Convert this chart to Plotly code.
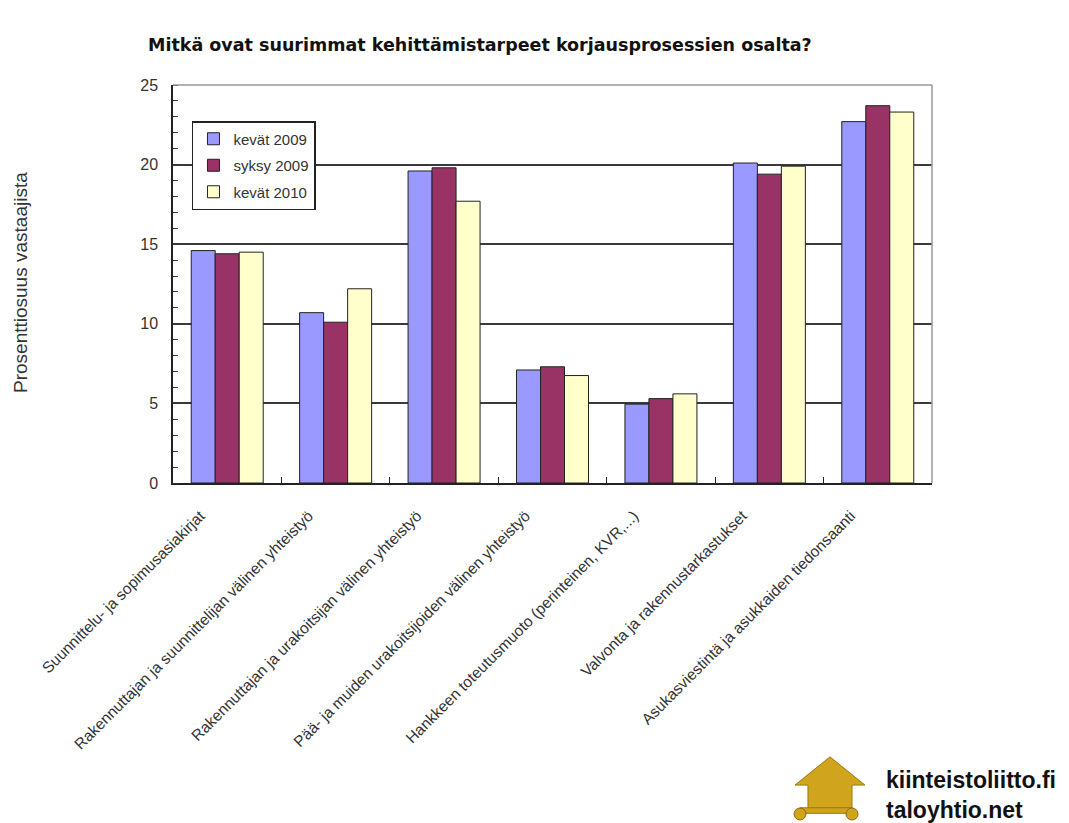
import plotly.graph_objects as go

categories = [
    "Suunnittelu- ja sopimusasiakirjat",
    "Rakennuttajan ja suunnittelijan välinen yhteistyö",
    "Rakennuttajan ja urakoitsijan välinen yhteistyö",
    "Pää- ja muiden urakoitsijoiden välinen yhteistyö",
    "Hankkeen toteutusmuoto (perinteinen, KVR,...)",
    "Valvonta ja rakennustarkastukset",
    "Asukasviestintä ja asukkaiden tiedonsaanti",
]
kevat_2009 = [14.6, 10.7, 19.6, 7.1, 4.95, 20.1, 22.7]
syksy_2009 = [14.4, 10.1, 19.8, 7.3, 5.3, 19.4, 23.7]
kevat_2010 = [14.5, 12.2, 17.7, 6.75, 5.6, 19.9, 23.3]
y_ticks = [0, 5, 10, 15, 20, 25]

series = [("kevät 2009", kevat_2009, "#9999FF"),
          ("syksy 2009", syksy_2009, "#993366"),
          ("kevät 2010", kevat_2010, "#FFFFCC")]

fig = go.Figure()
for name, vals, col in series:
    fig.add_trace(go.Bar(x=categories, y=vals, name=name, marker_color=col,
                         legendgroup=name,
                         marker_line_color="#222222", marker_line_width=1))

FONT = "Liberation Sans, Arial, sans-serif"
GOLD = "#D1A41E"
fig.update_layout(
    width=1061, height=815,
    margin=dict(l=165, r=137, t=77, b=340),
    paper_bgcolor="white", plot_bgcolor="white",
    barmode="group", bargap=0.336, bargroupgap=0,
    font=dict(family=FONT, color="#222222"),
    showlegend=True,
    legend=dict(x=0.025, y=0.9095, xanchor="left", yanchor="top",
                bordercolor="#222222", borderwidth=1.5, bgcolor="white",
                font=dict(size=15, family=FONT, color="#333333"),
                itemwidth=30, tracegroupgap=4),
    xaxis=dict(tickangle=-45, tickfont=dict(size=15.5, family=FONT, color="#333333"),
               ticks="inside", tickson="boundaries", ticklen=6, tickcolor="#222222",
               ticklabelstandoff=16, ticklabelshift=-27,
               showline=True, linecolor="#222222", linewidth=1.5),
    yaxis=dict(range=[0, 25], tickvals=y_ticks, tickfont=dict(size=16, family=FONT, color="#333333"),
               showgrid=True, gridcolor="#3a3a3a", gridwidth=1.5,
               ticks="", ticklabelstandoff=10,
               minor=dict(ticks="inside", dtick=1, ticklen=5, tickcolor="#333333", showgrid=False),
               showline=True, linecolor="#222222", linewidth=1.5),
    shapes=[
        dict(type="line", xref="paper", yref="paper", x0=0, x1=1, y0=1, y1=1,
             line=dict(color="#999999", width=1.5)),
        dict(type="line", xref="paper", yref="paper", x0=1, x1=1, y0=0, y1=1,
             line=dict(color="#999999", width=1.5)),
        # logo house
        dict(type="path", xref="paper", yref="paper",
             path="M 0.8195,-0.759 L 0.8656,-0.688 L 0.9117,-0.759 L 0.8946,-0.759 L 0.8946,-0.8166 "
                  "L 0.8366,-0.8166 L 0.8366,-0.759 Z",
             fillcolor=GOLD, line=dict(color="#9c7a12", width=1)),
        dict(type="rect", xref="paper", yref="paper",
             x0=0.826, x1=0.895, y0=-0.830, y1=-0.816,
             fillcolor=GOLD, line=dict(color="#9c7a12", width=1)),
        dict(type="circle", xref="paper", yref="paper",
             x0=0.8182, x1=0.8340, y0=-0.8467, y1=-0.8166,
             fillcolor=GOLD, line=dict(color="#8a6a10", width=1)),
        dict(type="circle", xref="paper", yref="paper",
             x0=0.8867, x1=0.9025, y0=-0.8467, y1=-0.8166,
             fillcolor=GOLD, line=dict(color="#8a6a10", width=1)),
    ],
    annotations=[
        dict(text="<b>Mitkä ovat suurimmat kehittämistarpeet korjausprosessien osalta?</b>",
             xref="paper", yref="paper", x=0.404, y=1.10, xanchor="center", yanchor="middle",
             showarrow=False, font=dict(size=17.5, family="DejaVu Sans, Verdana, sans-serif", color="#111111")),
        dict(text="Prosenttiosuus vastaajista", textangle=-90,
             xref="paper", yref="paper", x=-0.2016, y=0.505, xanchor="center", yanchor="middle",
             showarrow=False, font=dict(size=19, family=FONT, color="#333333")),
        dict(text="<b>kiinteistoliitto.fi</b><br><b>taloyhtio.net</b>",
             xref="paper", yref="paper", x=0.937, y=-0.784, xanchor="left", yanchor="middle",
             align="left", showarrow=False,
             font=dict(size=23, family="Liberation Sans Narrow, Liberation Sans, sans-serif", color="#111111")),
    ],
)

fig.write_html("out.html")
